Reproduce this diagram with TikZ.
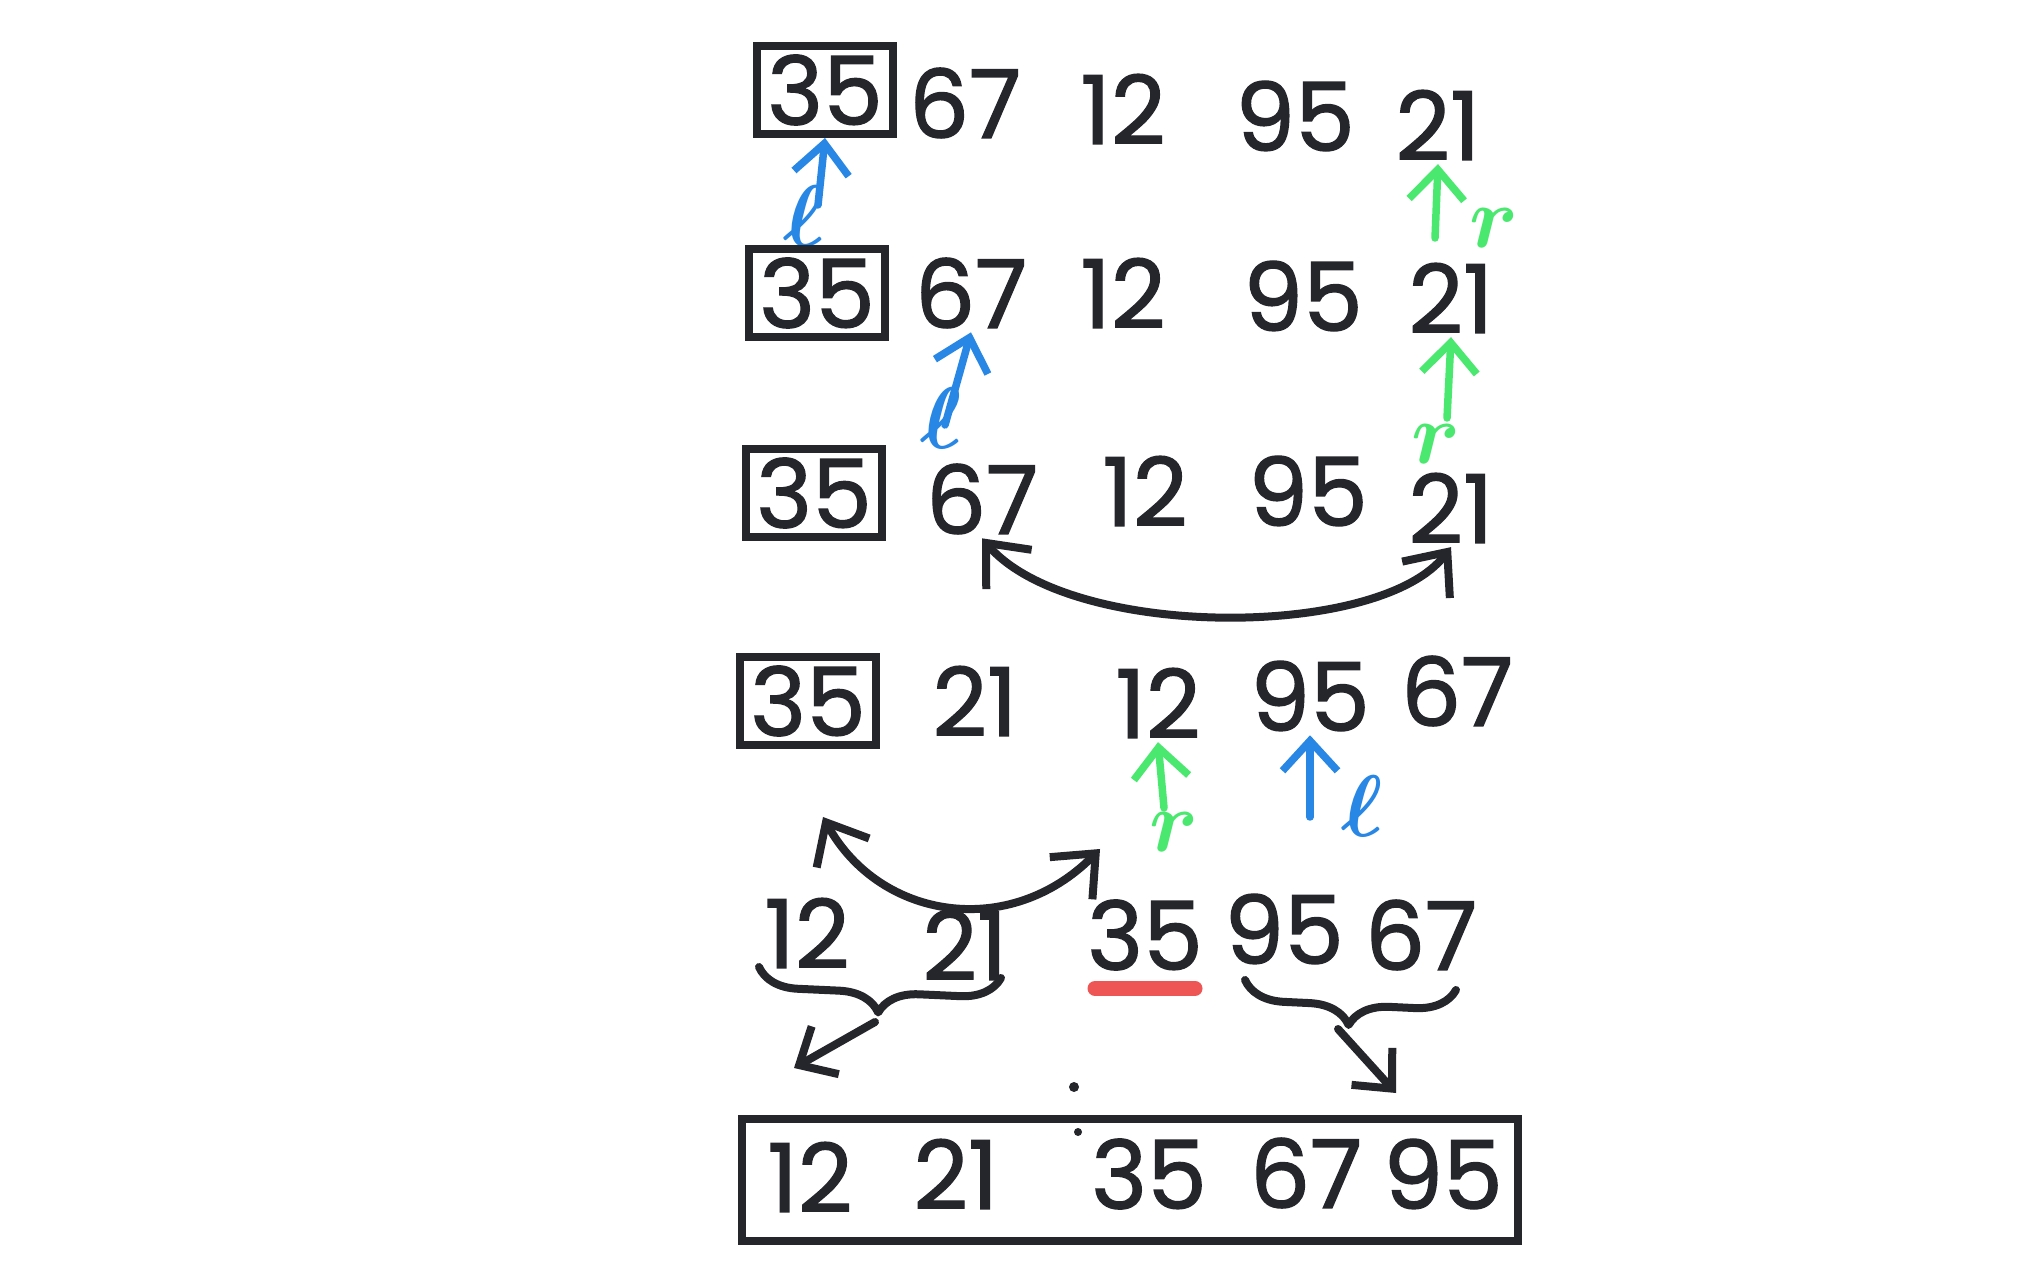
\documentclass[tikz,border=0pt]{standalone}
\usepackage{fontspec}
\usepackage{bm}
\setmainfont{Poppins}
\newfontfamily\hand{Poppins}[FakeBold=1.4]
\usetikzlibrary{arrows.meta,decorations.pathreplacing}

\definecolor{ink}{RGB}{37,38,43}
\definecolor{lblue}{RGB}{40,135,228}
\definecolor{rgreen}{RGB}{75,232,112}
\definecolor{pred}{RGB}{238,85,85}

\tikzset{
  num/.style={font=\hand\fontsize{27}{29}\selectfont, text=ink, inner sep=1pt},
  pivot/.style={num, draw=ink, line width=0.8mm, minimum width=13.6mm, minimum height=8.8mm, inner sep=0pt},
  pen/.style={draw=ink, line width=0.8mm, line cap=round, line join=round},
  ptr/.style={line width=0.75mm, line cap=round, -{Straight Barb[length=3mm,width=5.5mm]}},
  lptr/.style={ptr, draw=lblue},
  rptr/.style={ptr, draw=rgreen},
  tag/.style={font=\fontsize{28}{30}\selectfont, inner sep=0pt},
  swap/.style={pen, {Straight Barb[length=3.5mm,width=6mm]}-{Straight Barb[length=3.5mm,width=6mm]}},
  part/.style={pen, decorate, decoration={brace, mirror, amplitude=4mm}},
  underline/.style={draw=pred, line width=1.5mm, line cap=round}
}

\begin{document}
\begin{tikzpicture}[x=0.1mm, y=-0.1mm]
  %%%%% START %%%%%
  \fill[white] (0,0) rectangle (2017,1276);
  \useasboundingbox (0,0) rectangle (2017,1276);

  % first pass: pivot 35
  \node[pivot] (a1) at (825,90) {35};
  \node[num] (a2) at (965,103) {67};
  \node[num] (a3) at (1123,109) {12};
  \node[num] (a4) at (1295,116) {95};
  \node[num] (a5) at (1438,125) {21};

  \coordinate (la) at (818,205);
  \coordinate (ra) at (1435,238);
  \draw[lptr] (la) -- (a1.south);
  \draw[rptr] (ra) -- (a5.south);
  \node[tag, text=lblue] (lta) at (804,216) {$\bm{\ell}$};
  \node[tag, text=rgreen] (rta) at (1494,228) {$\bm{r}$};

  % l and r move
  \node[pivot] (b1) at (817,293) {35};
  \node[num] (b2) at (971,293) {67};
  \node[num] (b3) at (1123,293) {12};
  \node[num] (b4) at (1303,296) {95};
  \node[num] (b5) at (1451,298) {21};

  \coordinate (lb) at (945,425);
  \coordinate (rb) at (1447,418);
  \draw[lptr] (lb) -- (b2.south);
  \draw[rptr] (rb) -- (b5.south);
  \node[tag, text=lblue] (ltb) at (941,418) {$\bm{\ell}$};
  \node[tag, text=rgreen] (rtb) at (1436,444) {$\bm{r}$};

  % swap 67 and 21
  \node[pivot] (c1) at (814,493) {35};
  \node[num] (c2) at (982,499) {67};
  \node[num] (c3) at (1145,491) {12};
  \node[num] (c4) at (1308,491) {95};
  \node[num] (c5) at (1451,508) {21};

  \draw[swap] (c2.south) .. controls (1070,640) and (1380,640) .. (c5.south);

  % r and l cross
  \node[pivot] (d1) at (808,701) {35};
  \node[num] (d2) at (975,701) {21};
  \node[num] (d3) at (1158,703) {12};
  \node[num] (d4) at (1310,696) {95};
  \node[num] (d5) at (1457,691) {67};

  \coordinate (rd) at (1164,808);
  \coordinate (ld) at (1310,817);
  \draw[rptr] (rd) -- (d3.south);
  \draw[lptr] (ld) -- (d4.south);
  \node[tag, text=rgreen] (rtd) at (1174,832) {$\bm{r}$};
  \node[tag, text=lblue] (ltd) at (1362,806) {$\bm{\ell}$};

  % pivot into place
  \coordinate (s1) at (823,817);
  \coordinate (s2) at (1100,849);
  \draw[swap] (s1) .. controls (880,920) and (1010,940) .. (s2);

  \node[num] (e1) at (807,933) {12};
  \node[num] (e2) at (965,945) {21};
  \node[num] (e3) at (1145,935) {35};
  \node[num] (e4) at (1284,929) {95};
  \node[num] (e5) at (1421,935) {67};

  \draw[underline] ([xshift=-5mm,yshift=-1.4mm]e3.south) -- ([xshift=5mm,yshift=-1.4mm]e3.south);

  % split and recurse
  \draw[part] (759,967) -- (1001,978);
  \draw[part] (1245,980) -- (1456,990);
  \coordinate (lt) at (875,1022);
  \coordinate (lh) at (794,1068);
  \coordinate (rt) at (1338,1029);
  \coordinate (rh) at (1396,1093);
  \draw[pen, -{Straight Barb[length=3mm,width=5.5mm]}] (lt) -- (lh);
  \draw[pen, -{Straight Barb[length=3mm,width=5.5mm]}] (rt) -- (rh);

  \fill[ink] (1074,1087) circle (0.5mm);
  \fill[ink] (1078,1132) circle (0.4mm);

  % sorted
  \node[draw=ink, line width=0.8mm, minimum width=77.6mm, minimum height=12.2mm] (sorted) at (1130,1180) {};
  \node[num] (f1) at (810,1177) {12};
  \node[num] (f2) at (956,1174) {21};
  \node[num] (f3) at (1149,1174) {35};
  \node[num] (f4) at (1306,1173) {67};
  \node[num] (f5) at (1443,1174) {95};
  %%%%% END %%%%%
\end{tikzpicture}
\end{document}
